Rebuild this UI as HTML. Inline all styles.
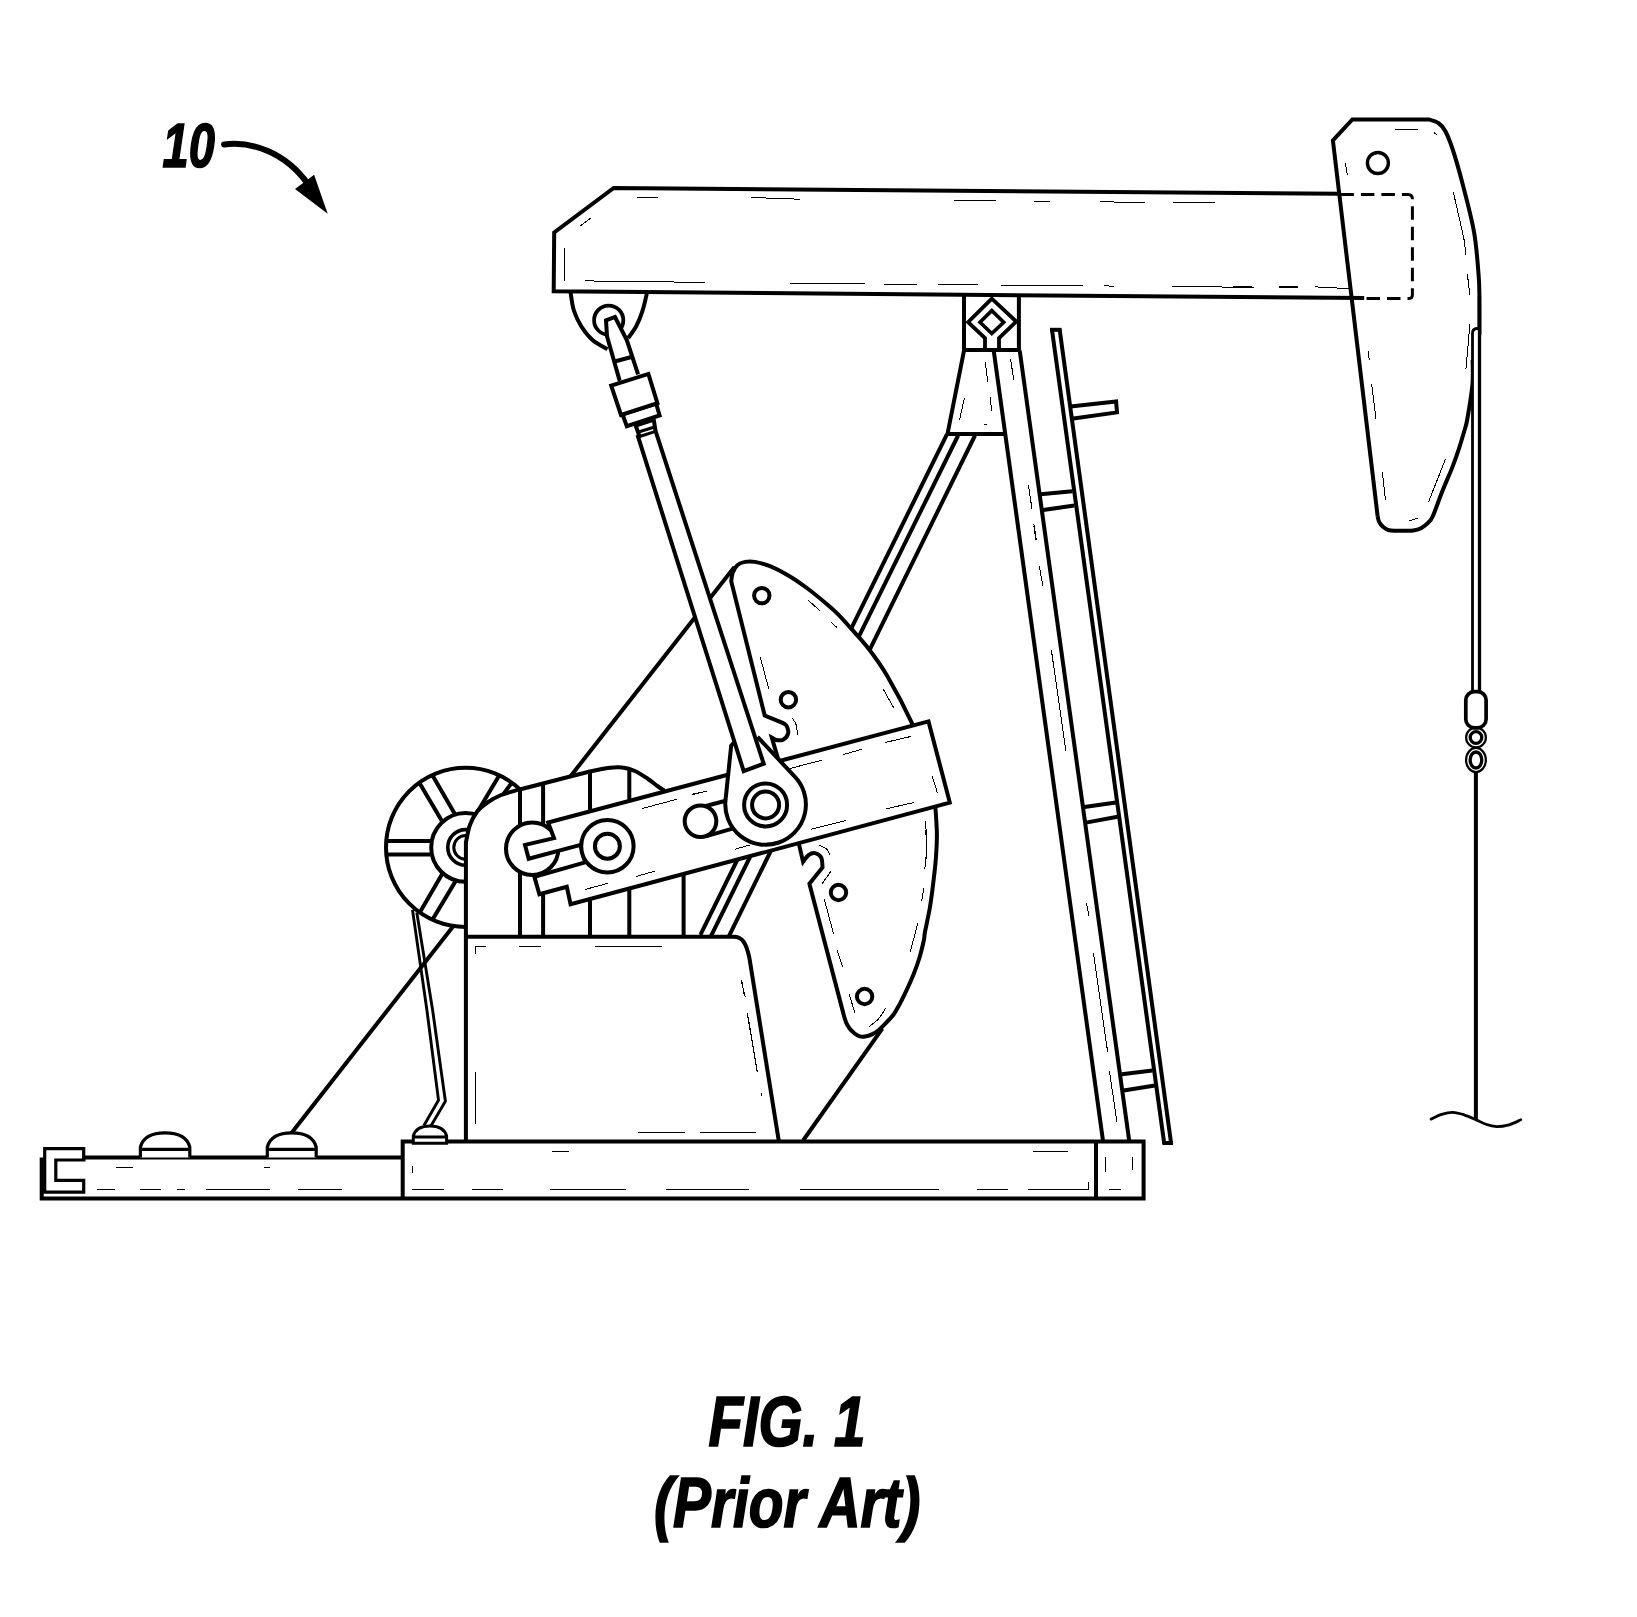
<!DOCTYPE html>
<html lang="en"><head><meta charset="utf-8"><title>FIG. 1 (Prior Art)</title>
<style>
html,body{margin:0;padding:0;background:#fff}
svg{display:block}
text{font-family:"Liberation Sans",sans-serif;font-weight:bold;font-style:italic;fill:#000}
</style></head><body>
<svg width="1637" height="1617" viewBox="0 0 1637 1617" stroke-linejoin="miter" stroke-linecap="butt">
<rect width="1637" height="1617" fill="#fff"/>
<!-- labels -->
<text x="162.5" y="166.8" font-size="62.5" textLength="52.3" lengthAdjust="spacingAndGlyphs" stroke="#000" stroke-width="1.6" stroke-linejoin="miter">10</text>
<text x="708.4" y="1445.6" font-size="69.5" textLength="157" lengthAdjust="spacingAndGlyphs" stroke="#000" stroke-width="1.7" stroke-linejoin="miter">FIG. 1</text>
<text x="654" y="1527" font-size="69.5" textLength="266.5" lengthAdjust="spacingAndGlyphs" stroke="#000" stroke-width="1.7" stroke-linejoin="miter">(Prior Art)</text>
<path d="M224,144.5 C252,141 285,152 308,184" fill="none" stroke="#000" stroke-width="6" stroke-linecap="round"/>
<path d="M314.1,174.8 L295,189 L327.7,213.7Z" fill="#000" stroke="none" stroke-width="0"/>
<!-- back diagonal and struts -->
<path d="M291.5,1132.9 L734.4,566.9" fill="none" stroke="#000" stroke-width="4"/>
<path d="M946.9,434.3 L699.4,936.8" fill="none" stroke="#000" stroke-width="4"/>
<path d="M958.1,435.5 L710.6,936.8" fill="none" stroke="#000" stroke-width="4"/>
<path d="M975,435.5 L728.6,936.8" fill="none" stroke="#000" stroke-width="4"/>
<path d="M803.1,1140.5 L882.3,1028.6" fill="none" stroke="#000" stroke-width="4"/>
<!-- sheave -->
<circle cx="465.6" cy="847.4" r="79.6" fill="#fff" stroke="#000" stroke-width="4"/>
<clipPath id="rimclip"><circle cx="465.6" cy="847.4" r="79.6"/></clipPath>
<g clip-path="url(#rimclip)">
<path d="M381.5,840.9 L437.2,840.9" fill="none" stroke="#000" stroke-width="4"/>
<path d="M381.5,854.6 L437.2,854.6" fill="none" stroke="#000" stroke-width="4"/>
<path d="M417.6,779.8 L444.3,825.1" fill="none" stroke="#000" stroke-width="4"/>
<path d="M430.7,772.3 L457.3,818.3" fill="none" stroke="#000" stroke-width="4"/>
<path d="M501.1,772.3 L473.7,818.2" fill="none" stroke="#000" stroke-width="4"/>
<path d="M514.1,779.5 L503.7,793.7" fill="none" stroke="#000" stroke-width="4"/>
<path d="M443.6,871.6 L417.6,916.3" fill="none" stroke="#000" stroke-width="4"/>
<path d="M456.8,879.1 L430,923.8" fill="none" stroke="#000" stroke-width="4"/>
</g>
<circle cx="465.6" cy="847.4" r="34.4" fill="#fff" stroke="#000" stroke-width="4"/>
<circle cx="465.6" cy="847.4" r="17.8" fill="none" stroke="#000" stroke-width="3.6"/>
<circle cx="465.6" cy="847.4" r="11.8" fill="none" stroke="#000" stroke-width="3"/>
<path d="M412.5,909.9 L426.9,1010 L438.5,1100.1 L423.9,1125.5" fill="none" stroke="#000" stroke-width="2.9"/>
<path d="M416.8,912.4 L432.6,1010 L445.4,1101.3 L430.6,1126.5" fill="none" stroke="#000" stroke-width="2.9"/>
<!-- gearbox -->
<path d="M465.9,842.4 C466.6,839.5 468,830.2 469.9,825 C471.9,819.8 474.5,815 477.4,811.2 C480.4,807.5 483.5,805.2 487.4,802.5 C491.4,799.8 496,797.1 501.2,795 C506.4,792.9 515.7,790.6 518.7,789.7 L571.2,776.2 C574.5,775.4 584.7,772.6 591.2,771.2 C597.7,769.8 604.7,768.4 609.9,767.7 C615.1,767.1 618.3,766.9 622.4,767.5 C626.6,768 630.8,769.2 634.9,771 C639.1,772.8 643.7,776 647.4,778.5 C651.2,781 654.6,784 657.4,786 C660.2,788 663.1,789.8 664.3,790.6 L700,936.8 L465.9,936.8 Z" fill="#fff" stroke="none" stroke-width="0"/>
<path d="M465.9,842.4 C466.6,839.5 468,830.2 469.9,825 C471.9,819.8 474.5,815 477.4,811.2 C480.4,807.5 483.5,805.2 487.4,802.5 C491.4,799.8 496,797.1 501.2,795 C506.4,792.9 515.7,790.6 518.7,789.7 L571.2,776.2 C574.5,775.4 584.7,772.6 591.2,771.2 C597.7,769.8 604.7,768.4 609.9,767.7 C615.1,767.1 618.3,766.9 622.4,767.5 C626.6,768 630.8,769.2 634.9,771 C639.1,772.8 643.7,776 647.4,778.5 C651.2,781 654.6,784 657.4,786 C660.2,788 663.1,789.8 664.3,790.6" fill="none" stroke="#000" stroke-width="4"/>
<path d="M520,788.7 L520,936.8" fill="none" stroke="#000" stroke-width="4"/>
<path d="M543.1,782.5 L543.1,936.8" fill="none" stroke="#000" stroke-width="4"/>
<path d="M590,773.1 L590,936.8" fill="none" stroke="#000" stroke-width="4"/>
<path d="M629.3,769.4 L629.3,936.8" fill="none" stroke="#000" stroke-width="4"/>
<path d="M683.6,857.4 L683.6,936.8" fill="none" stroke="#000" stroke-width="4"/>
<path d="M465.9,936.8 L733.7,936.8 C742.4,936.8 746.2,942.9 749.4,957.9 L778.9,1141.6 L465.9,1141.6Z" fill="#fff" stroke="none" stroke-width="0"/>
<path d="M465.9,841 L465.9,1141.6 M465.9,936.8 L733.7,936.8 C742.4,936.8 746.2,942.9 749.4,957.9 L778.9,1141.6" fill="none" stroke="#000" stroke-width="4"/>
<path d="M475.7,953.6 L475.7,946.8 L486.2,946.8M518.6,946.8 L541.1,946.8M594.8,946.1 L661.8,946.1M475.7,1072.3 L475.7,1104M741,979.8 L745.3,997.3M747.3,1013.6 L752.7,1044.8" fill="none" stroke="#000" stroke-width="1" shape-rendering="crispEdges"/>
<path d="M475.8,1071.7 L475.8,1123.5M747.2,1013 L757.1,1071.2M761.3,1093.4 L761.3,1095.9M637.9,1132.2 L684.8,1132.2M700.1,1132.2 L755.9,1132.2" fill="none" stroke="#000" stroke-width="1" shape-rendering="crispEdges"/>
<path d="M741.7,979.9 L744.4,996.2M747.4,1012.9 L757.4,1072.4" fill="none" stroke="#000" stroke-width="1" shape-rendering="crispEdges"/>
<!-- counterweight -->
<path d="M731.2,581.2 C731.5,579.8 731.7,575.4 732.7,572.7 C733.8,570 735.4,566.8 737.5,565 C739.5,563.2 742.1,562.4 745,561.9 C747.9,561.3 750.8,561.1 755,561.9 C759.1,562.6 764.5,564 770,566.2 C775.4,568.4 781.4,571.4 787.4,575 C793.5,578.5 799.9,582.9 806.2,587.5 C812.4,592.1 819.7,598.1 824.9,602.5 C830.1,606.8 833,609.3 837.4,613.7 C841.8,618.1 846,622.9 851.2,628.7 C856.4,634.5 862.6,640.8 868.6,648.7 C874.7,656.6 880.1,663.6 887.4,676.2 C894.7,688.7 906.1,710.5 912.3,723.9 C918.5,737.2 921.3,745.1 924.8,756.3 C928.3,767.6 931.5,779 933.5,791.3 C935.5,803.6 936.3,819.4 936.8,830 C937.2,840.6 936.7,846.7 936.1,855 C935.6,863.3 934.7,871.2 933.6,880 C932.6,888.7 931.4,898.7 929.9,907.5 C928.4,916.2 925.9,927 924.9,932.4 C923.9,937.9 924.8,935.9 923.9,940 C923,944.1 921.3,951.5 919.6,957.3 C917.9,963.1 915.7,969.1 913.5,974.6 C911.3,980.1 908.9,985.3 906.6,990.2 C904.3,995.1 901.9,1000.1 899.7,1004.1 C897.5,1008.1 895.9,1011.3 893.6,1014.5 C891.3,1017.7 888.2,1020.5 885.8,1023.1 C883.3,1025.7 881.2,1028.1 878.9,1030 C876.6,1031.9 874.2,1033.3 871.9,1034.4 C869.6,1035.5 867,1036.2 865,1036.5 C863,1036.8 861.5,1036.8 859.8,1036.3 C858.1,1035.8 856.3,1034.8 854.6,1033.5 C852.9,1032.2 850.8,1030.2 849.4,1028.3 C848,1026.4 847,1024.8 846,1022.3 C845,1019.8 843.8,1015 843.4,1013.6 L809.4,883.7 L822.5,867.5 C822.3,865.8 822.5,859.9 821.2,857.5 C820,855.1 817.1,853.5 815,853.1 C812.9,852.7 810.7,853.5 808.7,855 C806.7,856.4 804,860.7 803.1,861.9 L798.7,843.1 L777.8,758.1 L771.8,737.5 C772.6,737.9 774.3,739.6 776.2,740 C778.1,740.3 781.1,740.8 783.1,739.7 C785,738.7 787.4,736 788.1,733.7 C788.7,731.5 787.6,728 786.8,726.2 C786,724.5 783.7,723.6 783.1,723.1 L764.7,715.6 Z" fill="#fff" stroke="#000" stroke-width="4"/>
<circle cx="761.8" cy="595.6" r="7.7" fill="none" stroke="#000" stroke-width="4"/>
<circle cx="788.4" cy="699.7" r="7.7" fill="none" stroke="#000" stroke-width="4"/>
<circle cx="838.5" cy="892.5" r="7.7" fill="none" stroke="#000" stroke-width="4"/>
<circle cx="864.6" cy="996.5" r="7.7" fill="none" stroke="#000" stroke-width="4"/>
<path d="M808.1,600.2 L819.9,610.6M831.2,622.2 L836.8,627.4M760.3,657.2 L768.7,688.7M883.3,689.3 L893.6,707.6" fill="none" stroke="#000" stroke-width="1" shape-rendering="crispEdges"/>
<path d="M792.2,718 C792.9,719.2 795.3,722.1 796.2,724.9 C797.1,727.7 797.2,733.2 797.4,734.9" fill="none" stroke="#000" stroke-width="1" shape-rendering="crispEdges"/>
<path d="M831,871.2 L822.2,883.5M824.3,899.3 L833.5,933.7M837.2,950.2 L842.8,967.4M849.3,994.3 L854.7,1012.6M917.8,923.1 L910.3,951.8M923.7,888.1 L921.8,900.6" fill="none" stroke="#000" stroke-width="1" shape-rendering="crispEdges"/>
<path d="M819.3,845.2 C820.5,845.8 824.4,847.2 826.2,848.7 C828,850.3 829.3,853.4 830,854.4" fill="none" stroke="#000" stroke-width="1" shape-rendering="crispEdges"/>
<path d="M885.6,1008.4 C884.4,1010.1 881.4,1015.6 878.7,1018.6 C876,1021.7 870.9,1025.2 869.3,1026.5" fill="none" stroke="#000" stroke-width="1" shape-rendering="crispEdges"/>
<path d="M925.3,830 C925.5,832.1 926.7,836.2 926.8,842.5 C926.8,848.7 925.7,863.3 925.5,867.5" fill="none" stroke="#000" stroke-width="1" shape-rendering="crispEdges"/>
<path d="M925.5,821.3 C925.8,825.5 926.9,838.4 926.8,846.3 C926.7,854.2 925.1,865 924.8,868.8" fill="none" stroke="#000" stroke-width="1" shape-rendering="crispEdges"/>
<!-- crank -->
<circle cx="532.2" cy="848.7" r="26.2" fill="#fff" stroke="#000" stroke-width="4"/>
<path d="M548.1,822.5 L928.5,721.4 L949.8,802.6 L570.6,904.3 L566.8,886.8 L539.4,894.3 L534.4,876.8 L585,862.4 L580.6,844.9 L528.7,858.7 L525,844.9 L554,838.1Z" fill="#fff" stroke="#000" stroke-width="4"/>
<circle cx="607.4" cy="846.2" r="26.2" fill="#fff" stroke="#000" stroke-width="4"/>
<circle cx="607.4" cy="846.2" r="12.5" fill="none" stroke="#000" stroke-width="4"/>
<path d="M705,806.2 L727.5,800.2 M705.6,836.4 L732.5,828.7" fill="none" stroke="#000" stroke-width="4"/>
<circle cx="700.5" cy="821.2" r="15.8" fill="#fff" stroke="#000" stroke-width="4"/>
<path d="M642.2,808.5 L676.8,799.3M692.1,794.3 L706.8,791.2M636.2,876.4 L654.9,871.2M585,889.5 L607.7,883.4" fill="none" stroke="#000" stroke-width="1" shape-rendering="crispEdges"/>
<path d="M691.9,794.7 L706.9,791.2M789.9,768.5 L821.8,760.2M843,754.7 L861.8,749.3M811.2,829.3 L846.2,820.5M735,849.3 L750,844.9" fill="none" stroke="#000" stroke-width="1" shape-rendering="crispEdges"/>
<path d="M884.8,742.6 L911.1,736.4M932.3,776.3 L937.3,792.6M886.1,808.8 L913.6,802.6" fill="none" stroke="#000" stroke-width="1" shape-rendering="crispEdges"/>
<!-- pitman bearing -->
<path d="M757.5,736.8 L794.3,776.2 A40.3,40.3 0 1 1 725.5,800.3 L731.2,745.6 L734,742.7" fill="#fff" stroke="#000" stroke-width="4"/>
<circle cx="765.6" cy="804.9" r="21.5" fill="none" stroke="#000" stroke-width="4"/>
<circle cx="765.6" cy="804.9" r="13.5" fill="none" stroke="#000" stroke-width="4"/>
<!-- pitman rod -->
<path d="M637.5,434.9 L743.7,771.2 L763.7,763.7 L655.6,431.2" fill="#fff" stroke="#000" stroke-width="4"/>
<path d="M570.6,292.5 C571.1,295.4 572,304.4 573.7,310 C575.5,315.6 578.1,321.2 581.2,326.2 C584.4,331.2 588.1,336.1 592.5,340 C596.9,343.8 605,347.8 607.5,349.3" fill="none" stroke="#000" stroke-width="4"/>
<path d="M646.8,293.7 C646.1,296.7 644.2,305.8 642.4,311.2 C640.7,316.6 638.6,321.7 636.2,326.2 C633.8,330.7 629.4,336.1 628.1,338.1" fill="none" stroke="#000" stroke-width="4"/>
<circle cx="608.7" cy="320.2" r="14.6" fill="#fff" stroke="#000" stroke-width="3.8"/>
<path d="M619.7,380.9 L607,336.2 L606,320.4 L615,317 L626.8,340 L638.1,374.3" fill="#fff" stroke="#000" stroke-width="4"/>
<path d="M615.6,361.2 L630.6,357.2" fill="none" stroke="#000" stroke-width="4"/>
<path d="M635,423.7 L639.6,436.5" fill="none" stroke="#000" stroke-width="4"/>
<path d="M653.7,419.3 L655.6,431.4" fill="none" stroke="#000" stroke-width="4"/>
<path d="M636.5,425.9 L653.4,420.3" fill="none" stroke="#000" stroke-width="3"/>
<path d="M637.7,432.2 L654.6,427" fill="none" stroke="#000" stroke-width="3"/>
<path d="M639.6,436.5 L655.6,431.4" fill="none" stroke="#000" stroke-width="3"/>
<path d="M622.5,414.3 L656.2,403.7 L659.6,415.5 L626.8,426.2Z" fill="#fff" stroke="#000" stroke-width="4"/>
<path d="M611.2,385.6 L648.4,373.9 L657.4,403.1 L621,414.9Z" fill="#fff" stroke="#000" stroke-width="4"/>
<!-- walking beam -->
<path d="M1340.4,193.7 L613.7,188 L554.2,232.4 L553.7,291.2 L1364.2,298.1" fill="none" stroke="#000" stroke-width="4"/>
<path d="M636.9,197 L657.9,197M751.1,197.5 L799.8,199.2M580,226.2 L590.4,218.2M564.5,248.2 L564.5,281.2M584.9,280.9 L704.9,282.4M789.8,283.4 L864.8,283.4M883.5,284.2 L904,284.2" fill="none" stroke="#000" stroke-width="1" shape-rendering="crispEdges"/>
<path d="M954,200.7 L995.9,200.7M1033.9,201.7 L1050.2,201.7M1100.1,201.7 L1145.1,202.7M1173.3,202.5 L1215.1,202.5M904,284.4 L916.5,284.4M937.7,284.7 L978.2,284.7M1000.9,285.4 L1082.9,285.4M1103.9,285.4 L1113.9,286.7M1172.1,286.4 L1253.8,287.4M1278.8,287.2 L1298.3,287.2" fill="none" stroke="#000" stroke-width="1" shape-rendering="crispEdges"/>
<path d="M1233,286.9 L1251.7,286.9M1279.2,286.9 L1298,286.9M1315.4,286.9 L1349.2,288.6" fill="none" stroke="#000" stroke-width="1" shape-rendering="crispEdges"/>
<!-- samson post -->
<path d="M964,295.6 L964,350 L1018.9,350 L1018.9,295.6" fill="none" stroke="#000" stroke-width="4"/>
<path d="M985,349.3 L985,338.1 L968.1,322.2 L991.8,298.7 L1016.2,321.5 L999,338.1 L999,349.3" fill="none" stroke="#000" stroke-width="3.8"/>
<path d="M991.8,310.6 L1003.7,322.2 L991.8,333.5 L980,322.2Z" fill="none" stroke="#000" stroke-width="3.6"/>
<path d="M964,350.6 L947.5,433.9 L1004.6,433.9" fill="none" stroke="#000" stroke-width="4"/>
<path d="M993.7,350.6 L1103.1,1141.6" fill="none" stroke="#000" stroke-width="4"/>
<path d="M1019.7,350.6 L1129.3,1141.6" fill="none" stroke="#000" stroke-width="4"/>
<path d="M985.3,362.1 L987.7,381.8M1010.6,359 L1013.7,379.9M964.4,398.1 L959.6,419.7M990.3,397.2 L991.6,410.9M984,424.5 L987.2,424.5" fill="none" stroke="#000" stroke-width="1" shape-rendering="crispEdges"/>
<path d="M1028.4,484.8 L1031.9,508.5M1033.9,526 L1035.9,539.8" fill="none" stroke="#000" stroke-width="1" shape-rendering="crispEdges"/>
<path d="M1033.9,524 L1036.4,540.2M1039.4,566.5 L1042.9,586.4M1051.4,650.2 L1065.9,751.3" fill="none" stroke="#000" stroke-width="1" shape-rendering="crispEdges"/>
<path d="M1086.4,903 L1088.9,915.5M1093.4,952.9 L1107.6,1051.6M1109.4,1071.1 L1116.9,1121.6" fill="none" stroke="#000" stroke-width="1" shape-rendering="crispEdges"/>
<path d="M1051.8,328.5 L1164.3,1144" fill="none" stroke="#000" stroke-width="4"/>
<path d="M1059.5,328.5 L1171.2,1144" fill="none" stroke="#000" stroke-width="4"/>
<path d="M1050,329.8 L1061.3,329.8" fill="none" stroke="#000" stroke-width="4"/>
<path d="M1162.5,1143 L1173,1143" fill="none" stroke="#000" stroke-width="4"/>
<path d="M1070.5,406.4 L1116.1,401.4 L1117,412.4 L1071.8,418.7" fill="none" stroke="#000" stroke-width="4"/>
<path d="M1040.6,494.3 L1072.5,491.2" fill="none" stroke="#000" stroke-width="4"/>
<path d="M1043.1,510 L1074.3,505.6" fill="none" stroke="#000" stroke-width="4"/>
<path d="M1084.4,807.1 L1115.9,802.6" fill="none" stroke="#000" stroke-width="4"/>
<path d="M1085.9,822.6 L1117.6,816.8" fill="none" stroke="#000" stroke-width="4"/>
<path d="M1121.8,1074.3 L1152.4,1070.5" fill="none" stroke="#000" stroke-width="4"/>
<path d="M1123.7,1090.5 L1154.9,1085.5" fill="none" stroke="#000" stroke-width="4"/>
<!-- horsehead -->
<path d="M1377.6,516 L1332.9,140.5 L1352.4,119.5 L1429.1,119.5 C1430.7,120.1 1435.7,121 1438.4,123 C1441.1,124.9 1443,126.7 1445.4,131.2 C1447.8,135.7 1449.9,141 1452.9,150 C1455.8,158.9 1459.3,171.2 1462.9,184.9 C1466.4,198.7 1471.5,217.4 1474.1,232.4 C1476.7,247.4 1477.7,264 1478.6,274.9 C1479.5,285.8 1479.3,288 1479.4,298 C1479.5,308 1479.4,328.8 1479.4,335" fill="none" stroke="#000" stroke-width="4"/>
<path d="M1472.6,360 C1472.6,364.2 1473.3,375.2 1472.4,385 C1471.5,394.8 1468.7,411.1 1467.4,418.6 C1466.1,426.1 1465.9,425.2 1464.6,430 C1463.2,434.8 1461.3,441.4 1459.3,447.6 C1457.3,453.8 1455.2,459.9 1452.4,467.1 C1449.6,474.3 1445.8,482.5 1442.6,490.6 C1439.3,498.8 1435.3,510.6 1432.9,516 C1430.5,521.4 1430,520.9 1428,522.9 C1426,524.9 1423.5,526.9 1421.1,528.2 C1418.6,529.5 1416,530.2 1413.3,530.6 C1410.6,531 1407.7,530.8 1405,530.8 C1402.3,530.8 1399.7,530.8 1397,530.7 C1394.3,530.6 1391.2,530.9 1388.9,530.2 C1386.6,529.6 1384.6,528.2 1383,526.8 C1381.4,525.4 1380,523.7 1379.1,521.9 C1378.2,520.1 1377.8,517 1377.6,516" fill="none" stroke="#000" stroke-width="4" stroke-linejoin="round"/>
<circle cx="1377.9" cy="163" r="10.5" fill="none" stroke="#000" stroke-width="3.4"/>
<path d="M1340.4,194.4 L1407.9,194.4 Q1412.4,194.4 1412.4,198.9 L1412.4,294.9 Q1412.4,298.6 1407.9,298.6 L1364.2,298.6" fill="none" stroke="#000" stroke-width="3" stroke-dasharray="13.5 7"/>
<path d="M1395.4,129.2 L1417.9,129.2M1434.1,132.5 L1437.4,135.5M1345.4,163 L1347.4,175.5M1467.4,274.4 L1469.9,295.4M1469.9,324.4 L1465.9,369.3M1368.4,351.1 L1369.2,360.3M1371.7,384.3 L1375.9,418.6M1445.4,459.3 L1428.4,502.2M1382.4,472.3 L1385.4,499.8" fill="none" stroke="#000" stroke-width="1" shape-rendering="crispEdges"/>
<path d="M1453.4,192.4 C1454.3,196.6 1457.3,209.5 1459.1,217.4 C1460.9,225.3 1463,233.7 1464.1,239.9 C1465.2,246.2 1465.6,252.4 1465.9,254.9" fill="none" stroke="#000" stroke-width="1" shape-rendering="crispEdges"/>
<path d="M1409.1,521 L1418.4,518" fill="none" stroke="#000" stroke-width="1" shape-rendering="crispEdges"/>
<path d="M1472.5,692 L1472.5,333 Q1472.5,329 1477,328.5 L1479.5,328.5 L1479.5,692 Z" fill="#fff" stroke="none" stroke-width="0"/>
<path d="M1472.5,692 L1472.5,333 Q1472.5,329 1477,328.5 L1479.5,328.5" fill="none" stroke="#000" stroke-width="2.8"/>
<path d="M1479.5,296 L1479.5,692" fill="none" stroke="#000" stroke-width="3.3"/>
<rect x="1465.8" y="691.6" width="20.3" height="36.2" rx="8.5" ry="8.5" fill="#fff" stroke="#000" stroke-width="3.7"/>
<circle cx="1476" cy="737.5" r="9.9" fill="none" stroke="#000" stroke-width="2.2"/>
<circle cx="1476" cy="737.5" r="5.8" fill="none" stroke="#000" stroke-width="3.3"/>
<ellipse cx="1475.96" cy="760" rx="9.9" ry="12.1" fill="none" stroke="#000" stroke-width="2.2"/>
<ellipse cx="1475.96" cy="760" rx="5.8" ry="8" fill="none" stroke="#000" stroke-width="3.3"/>
<path d="M1475.9,772.5 L1475.9,1119.5" fill="none" stroke="#000" stroke-width="4"/>
<path d="M1431.1,1119.1 C1432.9,1118.3 1438,1115.4 1441.6,1114.3 C1445.2,1113.2 1449.1,1112.2 1452.9,1112.3 C1456.6,1112.4 1460.3,1113.6 1464.1,1114.8 C1467.9,1116 1472.2,1118 1475.8,1119.6 C1479.5,1121.1 1482.4,1123.1 1485.8,1124.3 C1489.3,1125.5 1492.7,1126.5 1496.6,1126.6 C1500.5,1126.6 1505,1125.9 1509.1,1124.8 C1513.1,1123.7 1518.9,1120.6 1520.8,1119.8" fill="none" stroke="#000" stroke-width="2.8" stroke-linecap="round"/>
<!-- base -->
<path d="M402.7,1198.6 L402.7,1141.6 L1143.6,1141.6 L1143.6,1198.6 L41.7,1198.6 L41.7,1157.6 M83.7,1157.6 L402.7,1157.6 M1096,1141.6 L1096,1198.6" fill="none" stroke="#000" stroke-width="4"/>
<path d="M83.7,1159 L83.7,1148.7 L44.7,1148.7 L44.7,1192.1 L83.7,1192.1 L83.7,1180.3 L55.8,1180.3 L55.8,1160 L85.5,1160" fill="none" stroke="#000" stroke-width="3.2"/>
<path d="M140.4,1157.6 L140.4,1147 C143.4,1136 153.1,1132.9 165.1,1132.9 C177.1,1132.9 186.8,1136 189.8,1147 L189.8,1157.6 M140.4,1149.4 L189.8,1149.4" fill="#fff" stroke="#000" stroke-width="3.2"/>
<path d="M267.3,1157.6 L267.3,1147 C270.3,1136 279.8,1132.9 291.8,1132.9 C303.8,1132.9 313.2,1136 316.2,1147 L316.2,1157.6 M267.3,1149.4 L316.2,1149.4" fill="#fff" stroke="#000" stroke-width="3.2"/>
<path d="M413.3,1143.3 L413.3,1136 C415.3,1129 422,1126 430,1126 C438,1126 444.6,1129 446.6,1136 L446.6,1143.3 Z M413.3,1137.1 L446.6,1137.1" fill="#fff" stroke="#000" stroke-width="3"/>
<path d="M115.8,1167.2 L133,1167.2M263.8,1167.2 L269.8,1167.2M96.5,1189.2 L115,1189.2M140.4,1189.2 L161.2,1189.2M176.7,1189.2 L184.9,1189.2M206.3,1189.2 L269.8,1189.2M297.6,1189.2 L341.6,1189.2" fill="none" stroke="#000" stroke-width="1" shape-rendering="crispEdges"/>
<path d="M552,1151.4 L568.8,1151.4M412.1,1166 L412.1,1172.9M412.1,1189.2 L443.7,1189.2M472.1,1189.2 L502.7,1189.2M550.3,1189.2 L625.6,1189.2M666.3,1189.2 L748.5,1189.2" fill="none" stroke="#000" stroke-width="1" shape-rendering="crispEdges"/>
<path d="M638,1132.3 L684.9,1132.3M700.4,1132.3 L756.2,1132.3M799.9,1189.3 L938.5,1189.3" fill="none" stroke="#000" stroke-width="1" shape-rendering="crispEdges"/>
<path d="M1033.4,1151.1 L1067.6,1151.1M1105.9,1156.6 L1105.9,1172.3M1132.6,1156.6 L1132.6,1170.3M904,1189.3 L939,1189.3M977.2,1189.3 L1008.4,1189.3M1027.7,1189.3 L1088.4,1189.3 L1088.4,1182.3M1109.4,1189.3 L1120.9,1189.3" fill="none" stroke="#000" stroke-width="1" shape-rendering="crispEdges"/>
</svg>
</body></html>
